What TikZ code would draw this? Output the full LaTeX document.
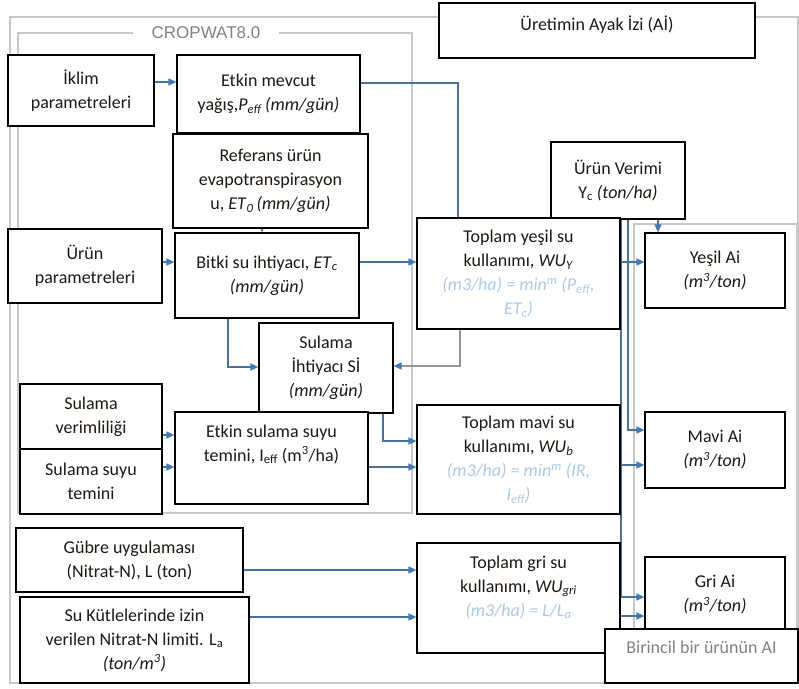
\documentclass[tikz,border=0pt]{standalone}
\usepackage{fontspec}
\setmainfont{Carlito}
\newfontfamily\arialfont{Liberation Sans}
\usetikzlibrary{arrows.meta}
\pgfdeclarelayer{background}
\pgfsetlayers{background,main}
\definecolor{frameg}{RGB}{200,200,200}
\definecolor{linec}{RGB}{74,114,152}
\definecolor{tipc}{RGB}{62,122,184}
\definecolor{grayc}{RGB}{150,150,150}
\definecolor{lblue}{RGB}{172,202,234}
\definecolor{titleg}{RGB}{130,130,130}
\definecolor{txtc}{RGB}{30,25,20}
\begin{document}
\begin{tikzpicture}[x=1pt,y=-1pt,
    box/.style={draw=black,line width=1.2pt,fill=white,align=center,inner sep=0pt,text=txtc,font=\fontsize{18}{24}\selectfont},
    txt/.style={align=center,inner sep=0pt,text=txtc,font=\fontsize{18}{24}\selectfont},
    frm/.style={draw=frameg,line width=1.2pt},
    conn/.style={draw=linec,line width=1.5pt},
    arr/.style={conn,-{Triangle[length=8pt,width=7pt,color=tipc]}}]
    \useasboundingbox (0,0) rectangle (799,688);
    % boxes
    \node[box,minimum width=316pt,minimum height=55pt] (ayak) at (597,30.5) {};
    \node[txt,anchor=north] (ayak-t) at ([yshift=-13pt]ayak.north) {Üretimin Ayak İzi (Aİ)};
    \node[box,minimum width=146pt,minimum height=71pt] (ikl) at (81,90.5) {İklim\\parametreleri};
    \node[box,minimum width=183pt,minimum height=78pt] (pef) at (268.5,94) {Etkin mevcut\\yağış,\textit{P}\textsubscript{\textit{eff}}\,\textit{(mm/gün)}};
    \node[box,minimum width=195pt,minimum height=94pt] (eto) at (270.5,181) {Referans ürün\\evapotranspirasyon\\u, \textit{ET}\textsubscript{\textit{0}}\,\textit{(mm/gün)}};
    \node[box,minimum width=154pt,minimum height=74pt] (urp) at (85,266) {Ürün\\parametreleri};
    \node[box,minimum width=184pt,minimum height=85pt] (etc) at (267,275.5) {Bitki su ihtiyacı, \textit{ET}\textsubscript{\textit{c}}\\\textit{(mm/gün)}};
    \node[box,minimum width=134pt,minimum height=90pt] (sih) at (326,368) {Sulama\\İhtiyacı Sİ\\\textit{(mm/gün)}};
    \node[box,minimum width=142pt,minimum height=65pt] (sve) at (91,416.5) {Sulama\\verimliliği};
    \node[box,minimum width=142pt,minimum height=65pt] (sst) at (91,481.5) {Sulama suyu\\temini};
    \node[box,minimum width=193pt,minimum height=92pt] (esu) at (271.5,458) {};
    \node[txt,anchor=north] (esu-t) at ([yshift=-13pt]esu.north) {Etkin sulama suyu\\temini, I\textsubscript{eff} (m\textsuperscript{3}/ha)};
    \node[box,minimum width=227pt,minimum height=64pt] (gub) at (129.5,560) {Gübre uygulaması\\(Nitrat-N), L (ton)};
    \node[box,minimum width=229pt,minimum height=86pt] (suk) at (134.5,640) {Su Kütlelerinde izin\\verilen Nitrat-N limiti. L\textsubscript{a}\\\textit{(ton/m\textsuperscript{3})}};
    \node[box,minimum width=134pt,minimum height=77pt] (yc) at (618,180.5) {Ürün Verimi\\Y\textsubscript{c} \textit{(ton/ha)}};
    \node[box,minimum width=203pt,minimum height=111pt] (wuy) at (518.5,273.5) {Toplam yeşil su\\kullanımı, \textit{WU}\textsubscript{\textit{Y}}\\{\color{lblue}\textit{(m3/ha) = min\textsuperscript{m} (P\textsubscript{eff},}}\\{\color{lblue}\textit{ET\textsubscript{c})}}};
    \node[box,minimum width=203pt,minimum height=109pt] (wub) at (518.5,459.5) {Toplam mavi su\\kullanımı, \textit{WU}\textsubscript{\textit{b}}\\{\color{lblue}\textit{(m3/ha) = min\textsuperscript{m} (IR,}}\\{\color{lblue}\textit{I\textsubscript{eff})}}};
    \node[box,minimum width=203pt,minimum height=110pt] (wug) at (518.5,598) {};
    \node[txt,anchor=north] (wug-t) at ([yshift=-13pt]wug.north) {Toplam gri su\\kullanımı, \textit{WU}\textsubscript{\textit{gri}}\\{\color{lblue}\textit{(m3/ha) = L/L\textsubscript{a}}}};
    \node[box,minimum width=140pt,minimum height=75pt] (ayes) at (715,270.5) {Yeşil Ai\\\textit{(m\textsuperscript{3}/ton)}};
    \node[box,minimum width=140pt,minimum height=76pt] (amav) at (715,450) {Mavi Ai\\\textit{(m\textsuperscript{3}/ton)}};
    \node[box,minimum width=140pt,minimum height=76pt] (agri) at (715,595) {Gri Ai\\\textit{(m\textsuperscript{3}/ton)}};
    \node[box,minimum width=193pt,minimum height=54pt] (bir) at (701.5,656) {};
    \node[txt,anchor=north,text=titleg] (bir-t) at ([yshift=-12pt]bir.north) {Birincil bir ürünün AI};
    \begin{pgfonlayer}{background}
    % frames
    \draw[frm] (10,17) rectangle (798,683);
    \draw[frm] (18,33) rectangle (412,513);
    \draw[frm] (634,224) rectangle (797,670);
    \node[fill=white,inner xsep=19pt,inner ysep=2pt,text=titleg,font=\arialfont\fontsize{17}{20}\selectfont] (crop) at (206,33) {CROPWAT8.0};
    % connectors
    \draw[arr] (ikl.east |- 0,82) -- (pef.west |- 0,82);
    \draw[conn] (pef.east |- 0,83) -| (wuy.north -| 458,0);
    \draw[arr] (eto.south -| 262,0) -- (etc.north -| 262,0);
    \draw[arr] (urp.east |- 0,262) -- (etc.west |- 0,262);
    \draw[arr] (etc.east |- 0,262) -- (wuy.west |- 0,262);
    \draw[arr] (etc.south -| 228,0) |- (sih.west |- 0,367);
    \draw[arr,draw=grayc] (wuy.south -| 460,0) |- (sih.east |- 0,366);
    \draw[arr] (sih.south -| 383,0) |- (wub.west |- 0,441);
    \draw[arr] (esu.east |- 0,467) -- (wub.west |- 0,467);
    \draw[arr] (sve.east |- 0,435) -- (esu.west |- 0,435);
    \draw[arr] (sst.east |- 0,467) -- (esu.west |- 0,467);
    \draw[arr] (gub.east |- 0,570) -- (wug.west |- 0,570);
    \draw[arr] (suk.east |- 0,617) -- (wug.west |- 0,617);
    \draw[arr] (wuy.east |- 0,262) -- (ayes.west |- 0,262);
    \draw[arr] (wub.east |- 0,465) -- (amav.west |- 0,465);
    \draw[arr] (yc.south -| 658,0) -- (ayes.north -| 658,0);
    \draw[arr] (yc.south -| 628,0) |- (amav.west |- 0,430);
    \draw[arr] (yc.south -| 621,0) |- (agri.west |- 0,597);
    \draw[arr] (wug.east |- 0,616) -- (agri.west |- 0,616);
    \end{pgfonlayer}
\end{tikzpicture}
\end{document}
